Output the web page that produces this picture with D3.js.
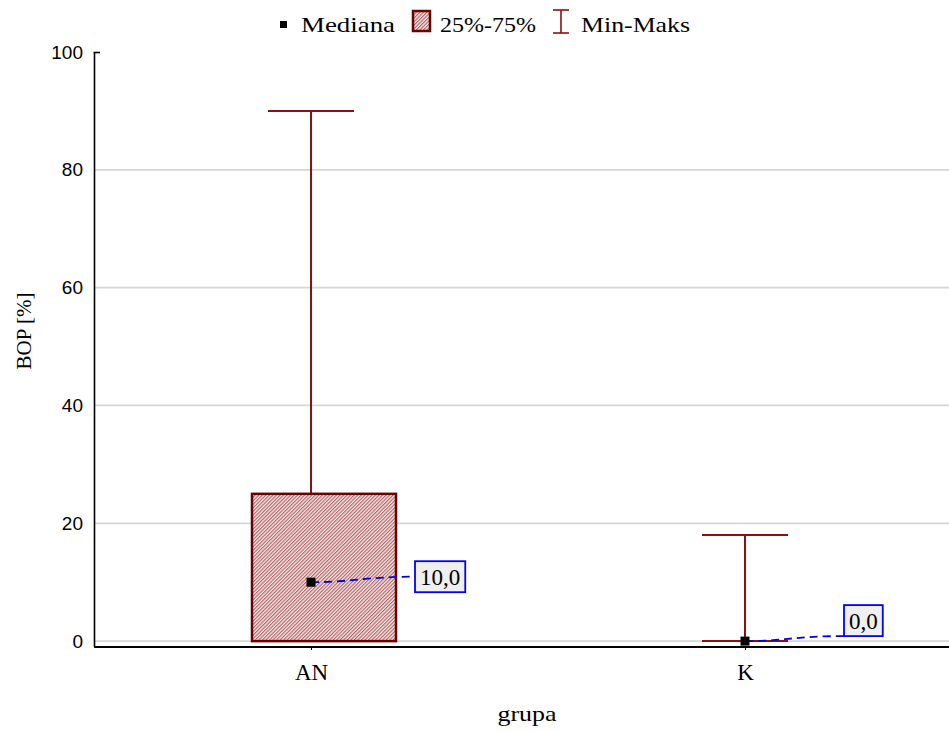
<!DOCTYPE html>
<html>
<head>
<meta charset="utf-8">
<script src="https://cdn.jsdelivr.net/npm/d3@7"></script>
<style>
  body { margin: 0; background: #fff; }
  svg { display: block; }
</style>
</head>
<body>
<svg id="chart" width="949" height="731"></svg>
<script>
// Groups and their summary statistics (BOP %)
const categories = ["AN", "K"];
const minValues = [0, 0];
const q1Values = [0, 0];
const medianValues = [10, 0];
const q3Values = [25, 0];
const maxValues = [90, 18];
const medianLabels = ["10,0", "0,0"];
const yTicks = [0, 20, 40, 60, 80, 100];

(function () {
const svg = d3.select("#chart");
const W = 949;
const plotLeft = 94, plotTop = 52, plotBottom = 647;
const serif = "Liberation Serif, Times New Roman, serif";
const sans = "Liberation Sans, Arial, sans-serif";

const x = d3.scalePoint().domain(categories).range([plotLeft, 962]).padding(0.5);
const y = d3.scaleLinear().domain([-1, 100]).range([plotBottom, plotTop]);

const boxColor = "#6a0000";
const whiskerColor = "#8c1010";

// Fine diagonal hatch fill for the interquartile box
const defs = svg.append("defs");
const pat = defs.append("pattern")
  .attr("id", "hatch").attr("patternUnits", "userSpaceOnUse")
  .attr("width", 2.5).attr("height", 2.5)
  .attr("patternTransform", "rotate(45)");
pat.append("rect").attr("width", 2.5).attr("height", 2.5).attr("fill", "#f6eaea");
pat.append("line").attr("x1", 0.6).attr("y1", 0).attr("x2", 0.6).attr("y2", 2.5)
  .attr("stroke", "#b05a5a").attr("stroke-width", 1.1);

// Gridlines
svg.append("g").selectAll("line").data(yTicks.filter(t => t < 100)).join("line")
  .attr("x1", plotLeft).attr("x2", W)
  .attr("y1", d => y(d)).attr("y2", d => y(d))
  .attr("stroke", "#d6d6d6").attr("stroke-width", 1.8);

// Y axis
const yAxis = svg.append("g").attr("transform", `translate(${plotLeft},0)`)
  .call(d3.axisLeft(y).tickValues(yTicks).tickSize(0).tickPadding(11));
yAxis.select(".domain").remove();
yAxis.selectAll("text").attr("font-family", sans)
  .attr("font-size", 19).attr("fill", "#000");

svg.append("line").attr("x1", plotLeft + 0.5).attr("x2", plotLeft + 0.5)
  .attr("y1", plotTop).attr("y2", plotBottom).attr("stroke", "#000").attr("stroke-width", 1.6);
svg.append("line").attr("x1", plotLeft - 0.3).attr("x2", plotLeft + 6)
  .attr("y1", plotTop + 0.5).attr("y2", plotTop + 0.5).attr("stroke", "#000").attr("stroke-width", 1.6);

// X axis
const xAxis = svg.append("g").attr("transform", `translate(0,${plotBottom})`)
  .call(d3.axisBottom(x).tickSize(3).tickPadding(14));
xAxis.select(".domain").remove();
xAxis.selectAll("text").attr("font-family", serif)
  .attr("font-size", 23).attr("fill", "#000");
xAxis.selectAll(".tick line").attr("stroke", "#000");
svg.append("line").attr("x1", plotLeft).attr("x2", W)
  .attr("y1", plotBottom).attr("y2", plotBottom).attr("stroke", "#000").attr("stroke-width", 2);

// Axis titles
svg.append("text").attr("x", 527).attr("y", 721).attr("text-anchor", "middle")
  .attr("font-family", serif).attr("font-size", 22)
  .attr("textLength", 59).attr("lengthAdjust", "spacingAndGlyphs")
  .text("grupa");
svg.append("text").attr("transform", "translate(31,331) rotate(-90)").attr("text-anchor", "middle")
  .attr("font-family", serif).attr("font-size", 21)
  .text("BOP [%]");

const data = categories.map((c, i) => ({
  c, min: minValues[i], q1: q1Values[i], med: medianValues[i],
  q3: q3Values[i], max: maxValues[i], label: medianLabels[i]
}));

const capHalf = 43, boxLeft = 59, boxRight = 85;
const g = svg.append("g");

data.forEach(d => {
  const cx = x(d.c);
  // whisker stem
  g.append("line").attr("x1", cx).attr("x2", cx)
    .attr("y1", y(d.max)).attr("y2", y(d.min))
    .attr("stroke", whiskerColor).attr("stroke-width", 2);
  // caps
  [d.min, d.max].forEach(v => {
    g.append("line").attr("x1", cx - capHalf).attr("x2", cx + capHalf)
      .attr("y1", y(v)).attr("y2", y(v))
      .attr("stroke", whiskerColor).attr("stroke-width", 2);
  });
  // interquartile box
  if (d.q3 > d.q1) {
    g.append("rect").attr("x", cx - boxLeft).attr("width", boxLeft + boxRight)
      .attr("y", y(d.q3)).attr("height", y(d.q1) - y(d.q3))
      .attr("fill", "url(#hatch)").attr("stroke", boxColor).attr("stroke-width", 2.5);
  }
});

// Median value labels with dashed blue leaders
const labelBoxes = [
  { dx: 104, dy: -21, anchorY: 0.5 },  // leader meets the middle of the left edge
  { dx: 99, dy: -36, anchorY: 1 }      // leader meets the bottom-left corner
];
const boxH = 31;
data.forEach((d, i) => {
  const cx = x(d.c), cy = y(d.med);
  const bx = cx + labelBoxes[i].dx, by = cy + labelBoxes[i].dy;
  const ex = bx, ey = by + boxH * labelBoxes[i].anchorY;
  g.append("path")
    .attr("d", `M${cx},${cy} C${cx + 40},${cy} ${ex - 50},${ey} ${ex},${ey}`)
    .attr("fill", "none").attr("stroke", "#0000e6").attr("stroke-width", 1.8)
    .attr("stroke-dasharray", "8,5");
  const t = g.append("text").attr("y", by + boxH / 2 + 8)
    .attr("font-family", serif).attr("font-size", 23)
    .text(d.label);
  const tw = t.node().getComputedTextLength();
  t.attr("x", bx + 5);
  g.insert("rect", () => t.node())
    .attr("x", bx).attr("y", by).attr("width", tw + 10).attr("height", boxH)
    .attr("fill", "#efefef").attr("stroke", "#0000ff").attr("stroke-width", 1.8);
  g.append("rect").attr("x", cx - 4.5).attr("y", cy - 4.5).attr("width", 9).attr("height", 9)
    .attr("fill", "#000");
});

// Legend
const lg = svg.append("g").attr("font-family", serif).attr("font-size", 22);
lg.append("rect").attr("x", 280).attr("y", 21).attr("width", 7).attr("height", 7).attr("fill", "#000");
lg.append("text").attr("x", 301).attr("y", 32)
  .attr("textLength", 94).attr("lengthAdjust", "spacingAndGlyphs").text("Mediana");
lg.append("rect").attr("x", 413).attr("y", 11).attr("width", 17).attr("height", 20)
  .attr("fill", "url(#hatch)").attr("stroke", boxColor).attr("stroke-width", 2.5);
lg.append("text").attr("x", 440).attr("y", 32)
  .attr("textLength", 96).attr("lengthAdjust", "spacingAndGlyphs").text("25%-75%");
lg.append("line").attr("x1", 561).attr("x2", 561).attr("y1", 10).attr("y2", 33)
  .attr("stroke", whiskerColor).attr("stroke-width", 1.6);
lg.append("line").attr("x1", 553).attr("x2", 569).attr("y1", 10).attr("y2", 10)
  .attr("stroke", whiskerColor).attr("stroke-width", 1.6);
lg.append("line").attr("x1", 553).attr("x2", 569).attr("y1", 33).attr("y2", 33)
  .attr("stroke", whiskerColor).attr("stroke-width", 1.6);
lg.append("text").attr("x", 581).attr("y", 32)
  .attr("textLength", 109).attr("lengthAdjust", "spacingAndGlyphs").text("Min-Maks");
})();
</script>
</body>
</html>
